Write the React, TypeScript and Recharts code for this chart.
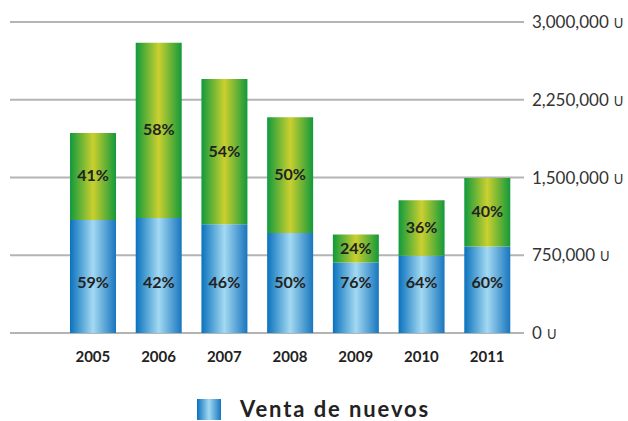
import { Bar, BarChart, CartesianGrid, LabelList, Legend, XAxis, YAxis } from "recharts";

const YEARS = ["2005", "2006", "2007", "2008", "2009", "2010", "2011"];
const NEW_SALES = [1090000, 1110000, 1050000, 965000, 680000, 745000, 835000];
const OTHER_SALES = [840000, 1690000, 1400000, 1115000, 270000, 535000, 660000];
const NEW_PCT = ["59%", "42%", "46%", "50%", "76%", "64%", "60%"];
const OTHER_PCT = ["41%", "58%", "54%", "50%", "24%", "36%", "40%"];
const Y_TICKS = [0, 750000, 1500000, 2250000, 3000000];

const data = YEARS.map((year, i) => ({
  year,
  nuevos: NEW_SALES[i],
  otros: OTHER_SALES[i],
  pctNuevos: NEW_PCT[i],
  pctOtros: OTHER_PCT[i],
}));

const FONT = "Lato, 'Open Sans', sans-serif";

function YTick({ x, y, payload }: any) {
  return (
    <text x={x} y={y} dy={6} fill="#333" fontFamily={FONT} fontSize={17}>
      {payload.value.toLocaleString("en-US")}
      <tspan fontSize={13} dx={5}>U</tspan>
    </text>
  );
}

function XTick({ x, y, payload }: any) {
  return (
    <text x={x} y={y} dy={21} textAnchor="middle" fill="#222" fontFamily={FONT} fontWeight={700} fontSize={15}>
      {payload.value}
    </text>
  );
}

function BottomLabel({ x, y, width, height, value }: any) {
  return (
    <text
      x={x + width / 2}
      y={y + height - 50}
      dy={5}
      textAnchor="middle"
      fill="#222"
      fontFamily={FONT}
      fontWeight={700}
      fontSize={16}
    >
      {value}
    </text>
  );
}

function TopLabel({ x, y, width, height, value }: any) {
  return (
    <text
      x={x + width / 2}
      y={y + height / 2}
      dy={5}
      textAnchor="middle"
      fill="#222"
      fontFamily={FONT}
      fontWeight={700}
      fontSize={16}
    >
      {value}
    </text>
  );
}

function LegendBox() {
  return (
    <div style={{ display: "flex", alignItems: "center", paddingTop: 35, paddingLeft: 187, height: 22 }}>
      <span
        style={{
          display: "inline-block",
          width: 24,
          height: 21,
          marginRight: 19,
          background: "linear-gradient(to right, #0a72bd, #a3d9f2 50%, #1876be)",
        }}
      />
      <span
        style={{
          fontFamily: FONT,
          fontWeight: 700,
          fontSize: 22,
          lineHeight: "22px",
          letterSpacing: 1.9,
          color: "#222",
        }}
      >
        Venta de nuevos
      </span>
    </div>
  );
}

export default function App() {
  return (
    <div style={{ position: "absolute", left: 0, top: 0, width: 628, height: 421, background: "#fff", overflow: "hidden" }}>
      <BarChart width={628} height={421} data={data} margin={{ top: 22, right: 0, bottom: 0, left: 10 }}>
        <defs>
          <linearGradient id="blueGrad" x1="0" y1="0" x2="1" y2="0">
            <stop offset="0%" stopColor="#0a72bd" />
            <stop offset="50%" stopColor="#a3d9f2" />
            <stop offset="100%" stopColor="#1876be" />
          </linearGradient>
          <linearGradient id="greenGrad" x1="0" y1="0" x2="1" y2="0">
            <stop offset="0%" stopColor="#109a3c" />
            <stop offset="50%" stopColor="#cbd02f" />
            <stop offset="100%" stopColor="#13993b" />
          </linearGradient>
        </defs>
        <CartesianGrid vertical={false} stroke="#b4b4b4" strokeWidth={2} />
        <XAxis
          dataKey="year"
          axisLine={false}
          tickLine={false}
          height={30}
          padding={{ left: 50, right: 4 }}
          tick={<XTick />}
          interval={0}
        />
        <YAxis
          orientation="right"
          domain={[0, 3000000]}
          ticks={Y_TICKS}
          axisLine={false}
          tickLine={false}
          width={104}
          tick={<YTick />}
        />
        <Legend verticalAlign="bottom" height={58} content={<LegendBox />} />
        <Bar dataKey="nuevos" stackId="a" fill="url(#blueGrad)" barSize={46} isAnimationActive={false}>
          <LabelList dataKey="pctNuevos" content={<BottomLabel />} />
        </Bar>
        <Bar dataKey="otros" stackId="a" fill="url(#greenGrad)" barSize={46} isAnimationActive={false}>
          <LabelList dataKey="pctOtros" content={<TopLabel />} />
        </Bar>
      </BarChart>
    </div>
  );
}
